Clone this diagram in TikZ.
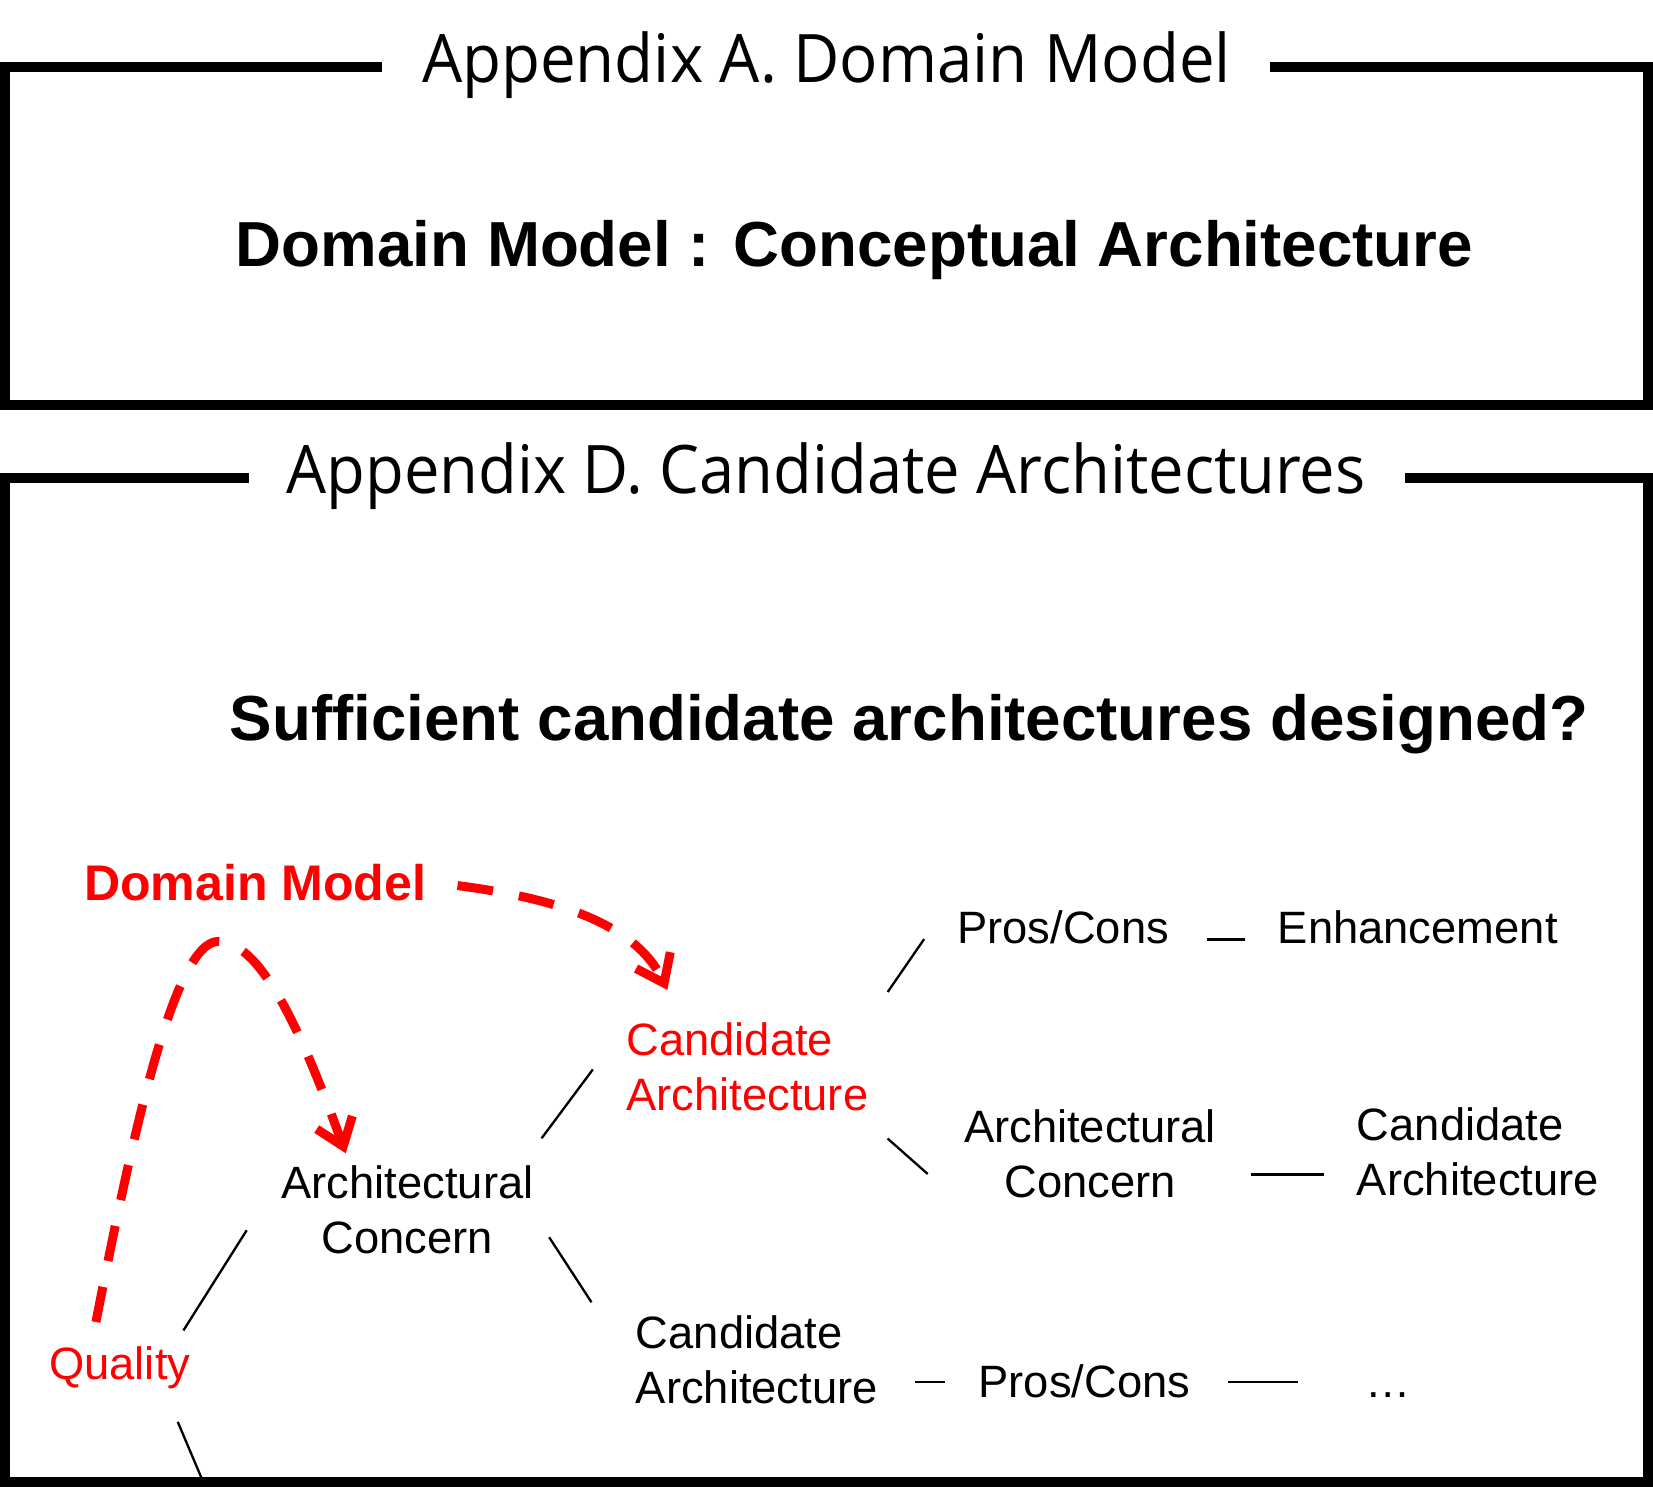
\documentclass[tikz,border=0pt]{standalone}
\usepackage{fontspec}
\setmainfont{Liberation Sans}
\newfontfamily\titlefont{Open Sans}
\usepackage{graphicx}
\usetikzlibrary{arrows.meta}
\definecolor{dred}{RGB}{255,0,0}
\begin{document}
\begin{tikzpicture}[x=1pt,y=-1pt,
  frame/.style={line width=9.5pt, line join=miter, line cap=butt},
  titletext/.style={inner sep=0pt, anchor=base, font=\titlefont\fontsize{63.5}{70}\selectfont},
  headtext/.style={inner sep=0pt, anchor=base, font=\bfseries\fontsize{60.4}{70}\selectfont},
  lbl/.style={inner sep=0pt, font=\fontsize{43}{52}\selectfont},
  redlbl/.style={lbl, text=dred},
  conn/.style={line width=2.2pt, line cap=butt},
  redarrow/.style={draw=dred, line width=8.5pt, line cap=butt, dash pattern=on 34pt off 25pt,
    -{Straight Barb[length=24pt,width=36pt,line width=8.5pt]}}
]
\useasboundingbox (0,0) rectangle (1568,1411.5);
\fill[white] (0,0) rectangle (1568,1411.5);

% frames
\draw[frame] (362,63.6) -- (4.75,63.6) -- (4.75,384) -- (1563.25,384) -- (1563.25,63.6) -- (1205,63.6);
\draw[frame] (236,453) -- (4.75,453) -- (4.75,1406) -- (1563.25,1406) -- (1563.25,453) -- (1333,453);

% titles
\node[titletext] (tA) at (784,78.7) {\scalebox{0.95}[1]{Appendix A. Domain Model}};
\node[titletext] (tD) at (783.5,468) {\scalebox{0.945}[1]{Appendix D. Candidate Architectures}};
\node[headtext] (hA) at (810.5,253) {Domain Model : Conceptual Architecture};
\node[headtext] (hD) at (862.5,702) {Sufficient candidate architectures designed?};

% labels
\node[redlbl, font=\bfseries\fontsize{47.5}{56}\selectfont, anchor=base west] (dm) at (79.5,854) {Domain Model};
\node[redlbl, anchor=base west] (qual) at (46.5,1309) {Quality};
\node[lbl, align=center, anchor=base] (ac1) at (386.5,1189) {Architectural\\Concern};
\node[redlbl, align=left, anchor=base west] (ca1) at (594,1053) {Candidate\\Architecture};
\node[lbl, align=left, anchor=base west] (ca2) at (603,1331) {Candidate\\Architecture};
\node[lbl, anchor=base west] (pc1) at (908,895) {Pros/Cons};
\node[lbl, anchor=base west] (enh) at (1212,895) {Enhancement};
\node[lbl, align=center, anchor=base] (ac2) at (1034,1136) {Architectural\\Concern};
\node[lbl, align=left, anchor=base west] (ca3) at (1287,1134) {Candidate\\Architecture};
\node[lbl, anchor=base west] (pc2) at (928,1326) {Pros/Cons};
\node[lbl, anchor=base west] (dots) at (1295,1326) {…};

% connector end points
\coordinate (q-ac-a) at (174,1262);   \coordinate (q-ac-b) at (234,1167);
\coordinate (q-dn-a) at (168.6,1348.7); \coordinate (q-dn-b) at (192,1404);
\coordinate (ac-ca-a) at (513.7,1079.8); \coordinate (ac-ca-b) at (562.4,1014.4);
\coordinate (ac-cb-a) at (520.9,1173.6); \coordinate (ac-cb-b) at (561.1,1235.3);
\coordinate (ca-pc-a) at (842,941);   \coordinate (ca-pc-b) at (876.6,890.8);
\coordinate (ca-ac-a) at (842,1080);  \coordinate (ca-ac-b) at (880,1113.6);
\coordinate (pc-en-a) at (1145,891);  \coordinate (pc-en-b) at (1181,891);
\coordinate (ac-c3-a) at (1187,1114); \coordinate (ac-c3-b) at (1256,1114);
\coordinate (cb-pc-a) at (868,1311);  \coordinate (cb-pc-b) at (896,1311);
\coordinate (pc-dt-a) at (1165,1311); \coordinate (pc-dt-b) at (1231,1311);

\draw[conn] (q-ac-a) -- (q-ac-b);
\draw[conn] (q-dn-a) -- (q-dn-b);
\draw[conn] (ac-ca-a) -- (ac-ca-b);
\draw[conn] (ac-cb-a) -- (ac-cb-b);
\draw[conn] (ca-pc-a) -- (ca-pc-b);
\draw[conn] (ca-ac-a) -- (ca-ac-b);
\draw[conn, line width=2.6pt] (pc-en-a) -- (pc-en-b);
\draw[conn, line width=2.6pt] (ac-c3-a) -- (ac-c3-b);
\draw[conn, line width=2.6pt] (cb-pc-a) -- (cb-pc-b);
\draw[conn, line width=2.6pt] (pc-dt-a) -- (pc-dt-b);

% red dashed arrows
\coordinate (dm-out) at (434,840);
\coordinate (ca1-in) at (633,939);
\coordinate (q-out) at (91,1254);
\coordinate (arc-top) at (207,893);
\coordinate (ac1-in) at (328,1094);
\draw[redarrow] (dm-out) .. controls (510,850) and (600,870) .. (ca1-in);
\draw[redarrow] (q-out) .. controls (125,1080) and (165,893) .. (arc-top) .. controls (250,893) and (290,990) .. (ac1-in);
\end{tikzpicture}
\end{document}
